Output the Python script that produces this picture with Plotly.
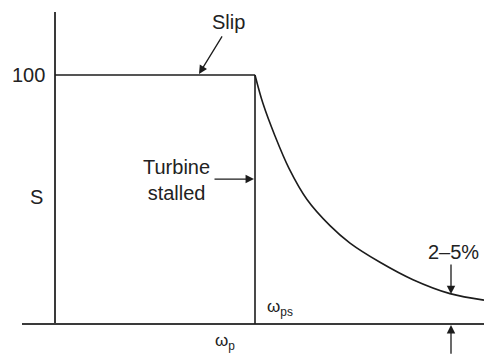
import plotly.graph_objects as go

# Speed axis: omega / omega_ps ; slip S in percent
stall_speed = 1.0
slip_full = 100

curve_speed = [1.0, 1.04, 1.10, 1.17, 1.26, 1.375, 1.475, 1.625, 1.79, 1.975, 2.145]
curve_slip = [100, 88.5, 75.5, 62.5, 50.0, 39.5, 32.5, 24.8, 17.8, 12.2, 9.6]

x_min, x_max = -0.275, 2.145
y_min, y_max = -12.45, 130.1
axis_top = 125.3
xaxis_left = -0.165

ink = "#1c1c1c"
axis_ink = "#3a3a3a"
font = dict(family="Liberation Sans, Arial, sans-serif", size=20, color="#222")

fig = go.Figure()

# axes drawn as plain lines
fig.add_trace(go.Scatter(x=[0, 0], y=[0, axis_top], mode="lines",
                         line=dict(color=axis_ink, width=2), hoverinfo="skip"))
fig.add_trace(go.Scatter(x=[xaxis_left, x_max], y=[0, 0], mode="lines",
                         line=dict(color=axis_ink, width=2), hoverinfo="skip"))

# stalled region: slip held at 100 %, then the drop line at omega_ps
fig.add_trace(go.Scatter(x=[0, stall_speed], y=[slip_full, slip_full], mode="lines",
                         line=dict(color=ink, width=1.6), hoverinfo="skip"))
fig.add_trace(go.Scatter(x=[stall_speed, stall_speed], y=[0, slip_full], mode="lines",
                         line=dict(color=ink, width=1.6), hoverinfo="skip"))

# slip decay above stall speed
fig.add_trace(go.Scatter(x=curve_speed, y=curve_slip, mode="lines",
                         line=dict(color=ink, width=1.6, shape="spline", smoothing=1.0),
                         hoverinfo="skip"))


def arrow(x_head, y_head, x_tail, y_tail):
    fig.add_annotation(x=x_head, y=y_head, ax=x_tail, ay=y_tail,
                       xref="x", yref="y", axref="x", ayref="y",
                       text="", showarrow=True, arrowhead=2, arrowsize=1.3,
                       arrowwidth=1.3, arrowcolor=ink, standoff=0, startstandoff=0)


def label(x, y, text, xanchor="center", size=20):
    fig.add_annotation(x=x, y=y, xref="x", yref="y", text=text, showarrow=False,
                       xanchor=xanchor, yanchor="middle",
                       font=dict(family=font["family"], size=size, color=font["color"]))


arrow(0.72, 100.4, 0.84, 116.1)
label(0.865, 121.3, "Slip")

arrow(0.995, 58.2, 0.79, 58.2)
label(0.605, 58, "Turbine<br>stalled")

arrow(1.98, 12.0, 1.98, 24.5)
label(1.99, 28.9, "2–5%")
arrow(1.98, -0.4, 1.98, -12.6)

label(1.05, 6.4, "ω<sub>ps</sub>", xanchor="left", size=17)
label(0.85, -7.4, "ω<sub>p</sub>", size=17)

label(-0.04, slip_full, "100", xanchor="right")
label(-0.095, 51, "S")

fig.update_layout(
    width=484, height=355,
    margin=dict(l=0, r=0, t=0, b=0),
    paper_bgcolor="white", plot_bgcolor="white",
    showlegend=False,
    xaxis=dict(range=[x_min, x_max], visible=False, fixedrange=True),
    yaxis=dict(range=[y_min, y_max], visible=False, fixedrange=True),
)

fig.write_html("out.html")
